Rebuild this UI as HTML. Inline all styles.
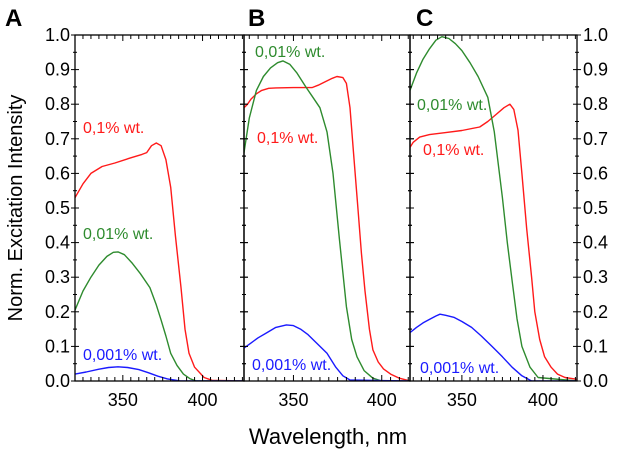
<!DOCTYPE html>
<html><head><meta charset="utf-8"><style>
body{margin:0;background:#fff;width:618px;height:450px;overflow:hidden}
svg{font-family:"Liberation Sans",Arial,sans-serif}
</style></head><body>
<svg id="chart" width="618" height="450"></svg>
<script>
const yTicks=[0,0.1,0.2,0.3,0.4,0.5,0.6,0.7,0.8,0.9,1.0];
const xTicks=[350,400];
const panelLetters=["A","B","C"];
const panelRanges=[[320,426],[322,416],[318,421]];
// Panel A
const aRedX=[320,325,330,337,345,355,362,365,368,371,374,377,380,383,386.5,389,391.5,395,401,406,426];
const aRedY=[0.53,0.57,0.6,0.62,0.63,0.645,0.655,0.66,0.68,0.688,0.68,0.64,0.56,0.42,0.27,0.15,0.08,0.04,0.01,0.002,0];
const aGreenX=[320,325,330,335,340,344,347,351,356,361,367,371,374,377,380,384,388,392,396,426];
const aGreenY=[0.205,0.26,0.3,0.335,0.36,0.372,0.373,0.365,0.34,0.31,0.27,0.22,0.176,0.13,0.08,0.045,0.02,0.007,0,0];
const aBlueX=[320,327,335,341,347,353,360,366,372,378,386,426];
const aBlueY=[0.02,0.026,0.034,0.039,0.041,0.039,0.033,0.024,0.014,0.006,0,0];
// Panel B
const bRedX=[322,324,326,329,332,336,340,350,360.5,364,368,372,374.6,378,380,382,384,386.5,388.5,390.5,393,395,398,401,405,410,416];
const bRedY=[0.79,0.8,0.815,0.83,0.84,0.846,0.847,0.848,0.848,0.855,0.865,0.875,0.88,0.877,0.86,0.79,0.66,0.5,0.37,0.26,0.15,0.09,0.055,0.035,0.02,0.008,0];
const bGreenX=[322,325,329,333,337,341,344,348,352,357,361,365,369,372.4,376,380,383,386,390,395,400,416];
const bGreenY=[0.66,0.76,0.84,0.88,0.905,0.92,0.925,0.915,0.89,0.85,0.82,0.79,0.72,0.6,0.41,0.215,0.12,0.07,0.03,0.008,0,0];
const bBlueX=[322,326,330,335,340,346,350,354,358,363,369,374,378,382,416];
const bBlueY=[0.095,0.11,0.125,0.14,0.155,0.162,0.16,0.15,0.135,0.11,0.08,0.04,0.015,0.003,0];
// Panel C
const cRedX=[318,320,324,330,340,350,361,366,371,376,379.6,382,384.6,387,390,393,395,398,401,405,409,413.6,421];
const cRedY=[0.675,0.69,0.705,0.712,0.718,0.724,0.734,0.75,0.77,0.79,0.8,0.785,0.725,0.6,0.44,0.3,0.2,0.12,0.07,0.04,0.02,0.01,0.005];
const cGreenX=[318,322,326,330,334,337.7,342,346,350,355,360,366,370,375,378,381,384,387,392,397,421];
const cGreenY=[0.84,0.89,0.93,0.96,0.985,0.995,0.99,0.975,0.955,0.92,0.88,0.82,0.72,0.53,0.4,0.29,0.18,0.1,0.04,0.01,0];
const cBlueX=[318,322,326,330,334,336.5,340,345,350,356,362,368.6,375,381,387,393,421];
const cBlueY=[0.14,0.155,0.168,0.178,0.188,0.193,0.19,0.184,0.172,0.155,0.13,0.1,0.07,0.04,0.015,0,0];

const RED="#ff1a1a",GREEN="#2e8b2e",BLUE="#1a1aff";
const series=[
 [[aRedX,aRedY,RED],[aGreenX,aGreenY,GREEN],[aBlueX,aBlueY,BLUE]],
 [[bRedX,bRedY,RED],[bGreenX,bGreenY,GREEN],[bBlueX,bBlueY,BLUE]],
 [[cRedX,cRedY,RED],[cGreenX,cGreenY,GREEN],[cBlueX,cBlueY,BLUE]]
];
const labels=[
 [["0,1% wt.",RED,83,133],["0,01% wt.",GREEN,83,239],["0,001% wt.",BLUE,83,360]],
 [["0,01% wt.",GREEN,255,57],["0,1% wt.",RED,257,143],["0,001% wt.",BLUE,252,370]],
 [["0,01% wt.",GREEN,417,110],["0,1% wt.",RED,423,155],["0,001% wt.",BLUE,420,373]]
];
const names=["red-01pct","green-001pct","blue-0001pct"];
const panelX=[[75,244],[244,410],[410,577]];
const Y0=381,Y1=35;
const svg=document.getElementById('chart');
const NS="http://www.w3.org/2000/svg";
function mk(t,a,p){const e=document.createElementNS(NS,t);for(const k in a)e.setAttribute(k,a[k]);(p||svg).appendChild(e);return e;}
function yS(v){return Y0+(Y1-Y0)*v;}
panelX.forEach((px,i)=>{
 const [n0,n1]=panelRanges[i];
 const xS=n=>px[0]+(n-n0)/(n1-n0)*(px[1]-px[0]);
 const g=mk('g',{});
 
 
 const cp=mk('clipPath',{id:'cp'+i},g);
 mk('rect',{x:px[0],y:Y1,width:px[1]-px[0],height:Y0-Y1},cp);
 series[i].forEach((s,j)=>{
  const pts=s[0].map((n,k)=>xS(n).toFixed(1)+','+yS(s[1][k]).toFixed(1)).join(' ');
  const l=mk('polyline',{points:pts,fill:'none',stroke:s[2],'stroke-width':1.4,'stroke-linejoin':'round','clip-path':'url(#cp'+i+')'},g);
  
  
 });
 for(let n=Math.ceil(n0/5)*5;n<=n1;n+=5){
  const x=xS(n),len=(n%50===0)?6:4;
  mk('line',{x1:x,x2:x,y1:Y0,y2:Y0-len,stroke:'#000','stroke-width':1},g);
  mk('line',{x1:x,x2:x,y1:Y1,y2:Y1+len,stroke:'#000','stroke-width':1},g);
 }
 xTicks.forEach(n=>{
  const t=mk('text',{x:xS(n),y:406,'font-size':18,'text-anchor':'middle',fill:'#000'},g);
  t.textContent=n;
  
  
 });
 for(let k=0;k<=20;k++){
  const y=yS(k*0.05),len=(k%2===0)?4:2;
  mk('line',{x1:px[0]-len,x2:px[0]+len,y1:y,y2:y,stroke:'#000','stroke-width':1},g);
  mk('line',{x1:px[1]-len,x2:px[1]+len,y1:y,y2:y,stroke:'#000','stroke-width':1},g);
 }
 mk('rect',{x:px[0],y:Y1,width:px[1]-px[0],height:Y0-Y1,fill:'none',stroke:'#000','stroke-width':1.3},g);
 const L=mk('text',{x:[5,248,416][i],y:26,'font-size':24,'font-weight':'bold',fill:'#000'},g);
 L.textContent=panelLetters[i];
 
 
 labels[i].forEach(lb=>{
  const t=mk('text',{x:lb[2],y:lb[3],'font-size':16,fill:lb[1]},g);
  t.textContent=lb[0];
  
  
 });
});
yTicks.forEach(v=>{
 const t=mk('text',{x:70,y:yS(v)+6,'font-size':18,'text-anchor':'end',fill:'#000'});
 t.textContent=v.toFixed(1);
 
 
 const r=mk('text',{x:583,y:yS(v)+6,'font-size':18,fill:'#000'});
 r.textContent=v.toFixed(1);
 
 
});
const yt=mk('text',{x:0,y:0,'font-size':20,'text-anchor':'middle',fill:'#000',transform:'translate(22,208) rotate(-90)'});
yt.textContent='Norm. Excitation Intensity';


const xt=mk('text',{x:328,y:444,'font-size':22,'text-anchor':'middle',fill:'#000'});
xt.textContent='Wavelength, nm';


</script>
</body></html>
